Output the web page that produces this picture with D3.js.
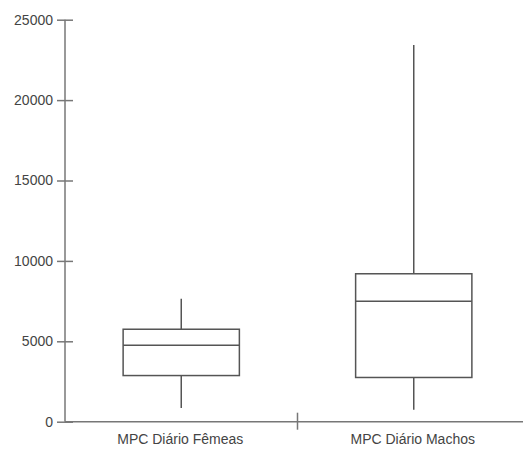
<!DOCTYPE html>
<html>
<head>
<meta charset="utf-8">
<script src="https://cdn.jsdelivr.net/npm/d3@7"></script>
<style>
  body { margin: 0; background: #fff; }
  text { font-family: "Liberation Sans", Arial, sans-serif; }
</style>
</head>
<body>
<div id="chart"></div>
<script>
// Box plot data
const categories = ["MPC Diário Fêmeas", "MPC Diário Machos"];
const whiskerLow = [850, 740];
const q1 = [2870, 2750];
const median = [4750, 7490];
const q3 = [5750, 9200];
const whiskerHigh = [7650, 23430];
const yTicks = [0, 5000, 10000, 15000, 20000, 25000];

const width = 523, height = 450;
const margin = {top: 20, left: 65, bottom: 26};

const svg = d3.select("#chart").append("svg")
    .attr("width", width)
    .attr("height", height);

// x band scale runs a bit past the right edge, like the original
const x = d3.scaleBand()
    .domain(categories)
    .range([margin.left, 530]);

const y = d3.scaleLinear()
    .domain([0, 25000])
    .range([height - margin.bottom - 2.3, margin.top - 0.3]);

const axisColor = "#777";
const textColor = "#444";

// y axis
const yAxis = svg.append("g")
    .attr("transform", `translate(${margin.left},0)`)
    .call(d3.axisLeft(y).tickValues(yTicks).tickSize(0).tickPadding(12).tickFormat(d3.format("d")));
yAxis.select(".domain").remove();
yAxis.selectAll(".tick line").remove();
yAxis.selectAll(".tick").append("line")
    .attr("x1", -8).attr("x2", 8)
    .attr("stroke", axisColor).attr("stroke-width", 1.5);
yAxis.append("line")
    .attr("x1", 0).attr("x2", 0)
    .attr("y1", y(0)).attr("y2", y(25000))
    .attr("stroke", axisColor).attr("stroke-width", 1.5);
yAxis.selectAll("text")
    .style("font-size", "14px").style("fill", textColor);

// x axis
const xAxis = svg.append("g")
    .attr("transform", `translate(0,${y(0)})`);
xAxis.append("line")
    .attr("x1", margin.left).attr("x2", width)
    .attr("stroke", axisColor).attr("stroke-width", 1.5);
// tick between the two categories
xAxis.append("line")
    .attr("x1", x(categories[1])).attr("x2", x(categories[1]))
    .attr("y1", -9).attr("y2", 8)
    .attr("stroke", axisColor).attr("stroke-width", 1.5);
xAxis.selectAll(".cat-label")
    .data(categories)
    .enter()
    .append("text")
    .attr("class", "cat-label")
    .attr("x", d => x(d) + x.bandwidth() / 2 - 1)
    .attr("y", 22)
    .attr("text-anchor", "middle")
    .style("font-size", "14px")
    .style("fill", textColor)
    .text(d => d);

// boxes
const boxData = categories.map((c, i) => ({
    cat: c, lo: whiskerLow[i], q1: q1[i], med: median[i], q3: q3[i], hi: whiskerHigh[i]
}));
const boxW = x.bandwidth() / 2;
const lineColor = "#555";

const g = svg.selectAll(".box")
    .data(boxData)
    .enter()
    .append("g")
    .attr("class", "box")
    .attr("transform", d => `translate(${x(d.cat) + x.bandwidth() / 2},0)`);

g.append("line")
    .attr("x1", 0).attr("x2", 0)
    .attr("y1", d => y(d.hi)).attr("y2", d => y(d.q3))
    .attr("stroke", lineColor).attr("stroke-width", 1.5);
g.append("line")
    .attr("x1", 0).attr("x2", 0)
    .attr("y1", d => y(d.q1)).attr("y2", d => y(d.lo))
    .attr("stroke", lineColor).attr("stroke-width", 1.5);
g.append("rect")
    .attr("x", -boxW / 2)
    .attr("width", boxW)
    .attr("y", d => y(d.q3))
    .attr("height", d => y(d.q1) - y(d.q3))
    .attr("fill", "#fff")
    .attr("stroke", lineColor).attr("stroke-width", 1.5);
g.append("line")
    .attr("x1", -boxW / 2).attr("x2", boxW / 2)
    .attr("y1", d => y(d.med)).attr("y2", d => y(d.med))
    .attr("stroke", lineColor).attr("stroke-width", 1.5);
</script>
</body>
</html>
